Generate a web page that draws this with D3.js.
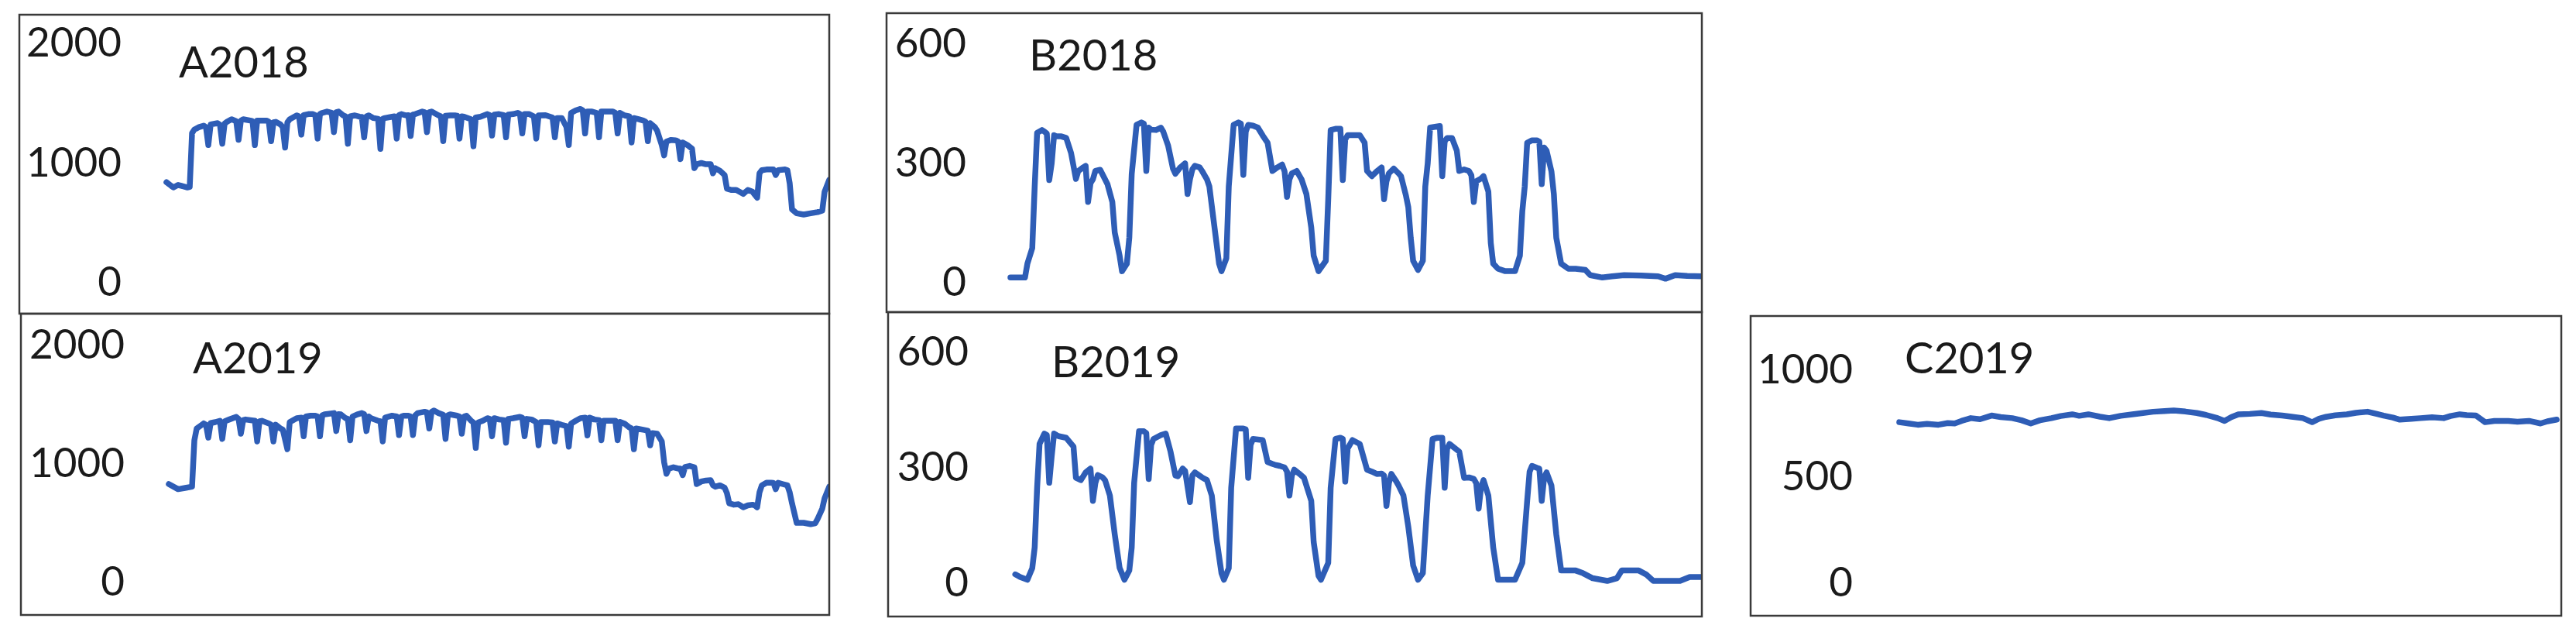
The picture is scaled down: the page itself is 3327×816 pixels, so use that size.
<!DOCTYPE html>
<html><head><meta charset="utf-8">
<script src="https://cdn.jsdelivr.net/npm/d3@7"></script>
<style>html,body{margin:0;padding:0;background:#fff;} svg{display:block;}</style>
</head><body><svg id="c" width="3327" height="816"></svg>
<script>
// ---- data ----
const titles = ["A2018", "A2019", "B2018", "B2019", "C2019"];
const ticksA = [0, 1000, 2000];
const ticksB = [0, 300, 600];
const ticksC = [0, 500, 1000];
// [day, value]
const a2018 = [[0,840],[2,810],[3,796],[5,817],[7,806],[9,796],[10,800],[11,1250],[12,1280],[14,1300],[16,1312],[17,1300],[18,1150],[19,1323],[22,1333],[23,1320],[24,1161],[25,1330],[26,1344],[28,1366],[30,1350],[31,1194],[32,1355],[33,1366],[36,1355],[37,1350],[38,1150],[39,1355],[43,1355],[44,1345],[45,1183],[46,1340],[47,1344],[49,1323],[50,1300],[51,1129],[52,1340],[53,1366],[56,1398],[57,1390],[58,1237],[59,1400],[61,1409],[63,1409],[64,1400],[65,1204],[66,1410],[67,1419],[69,1430],[71,1420],[72,1258],[73,1425],[74,1430],[76,1398],[77,1390],[78,1161],[79,1390],[81,1398],[83,1387],[84,1385],[85,1215],[86,1390],[87,1398],[89,1376],[91,1370],[92,1118],[93,1370],[94,1376],[97,1387],[98,1390],[99,1204],[100,1400],[101,1409],[103,1398],[104,1400],[105,1226],[106,1405],[107,1409],[110,1430],[111,1425],[112,1258],[113,1425],[114,1430],[117,1398],[118,1390],[119,1183],[120,1395],[122,1398],[124,1398],[125,1395],[126,1204],[127,1390],[128,1387],[131,1366],[132,1140],[133,1380],[135,1387],[138,1409],[139,1400],[140,1230],[141,1405],[143,1409],[145,1400],[146,1215],[147,1405],[149,1409],[151,1419],[152,1410],[153,1247],[154,1410],[156,1409],[158,1390],[159,1204],[160,1398],[163,1400],[165,1387],[166,1380],[167,1215],[168,1376],[170,1376],[172,1300],[173,1150],[174,1419],[176,1440],[178,1452],[179,1440],[180,1247],[181,1430],[183,1430],[185,1419],[186,1215],[187,1430],[189,1430],[192,1430],[193,1420],[194,1247],[195,1419],[197,1398],[199,1390],[200,1172],[201,1376],[203,1366],[205,1355],[206,1345],[207,1183],[208,1333],[210,1300],[211,1270],[213,1150],[214,1064],[215,1180],[217,1193],[219,1190],[220,1180],[221,1032],[222,1172],[224,1150],[226,1120],[227,957],[228,990],[230,1000],[232,990],[234,990],[235,914],[236,957],[238,935],[240,900],[241,785],[243,775],[245,775],[248,742],[250,775],[252,760],[254,710],[255,914],[256,940],[258,946],[261,946],[262,900],[263,940],[266,946],[267,940],[268,830],[269,613],[271,580],[274,570],[277,580],[280,590],[282,602],[283,760],[285,860]];
const a2019 = [[1,830],[5,787],[8,797],[11,808],[12,1200],[13,1299],[16,1342],[17,1330],[18,1222],[19,1345],[21,1353],[23,1364],[24,1211],[25,1360],[27,1375],[30,1397],[31,1380],[32,1255],[33,1370],[34,1375],[38,1364],[39,1190],[40,1360],[41,1364],[44,1342],[45,1330],[46,1190],[47,1331],[49,1299],[50,1290],[52,1124],[53,1353],[56,1386],[58,1390],[59,1233],[60,1400],[62,1407],[64,1407],[65,1400],[66,1233],[67,1410],[68,1418],[72,1429],[73,1277],[74,1420],[75,1418],[77,1386],[78,1380],[79,1200],[80,1400],[82,1418],[84,1429],[85,1420],[86,1277],[87,1400],[88,1386],[91,1364],[92,1360],[93,1190],[94,1390],[95,1397],[97,1407],[99,1400],[100,1244],[101,1400],[102,1407],[104,1407],[105,1400],[106,1244],[107,1410],[108,1429],[111,1440],[112,1435],[113,1299],[114,1440],[115,1451],[117,1429],[119,1415],[120,1211],[121,1410],[122,1418],[125,1407],[126,1400],[127,1255],[128,1400],[129,1407],[131,1364],[132,1350],[133,1135],[134,1350],[136,1364],[138,1386],[139,1380],[140,1233],[141,1386],[143,1375],[145,1370],[146,1179],[147,1380],[149,1386],[152,1397],[153,1390],[154,1233],[155,1380],[157,1375],[159,1353],[160,1157],[161,1353],[164,1353],[166,1350],[167,1190],[168,1342],[170,1330],[172,1320],[173,1146],[174,1340],[176,1364],[178,1386],[180,1390],[181,1240],[182,1390],[184,1375],[186,1370],[187,1200],[188,1364],[191,1364],[193,1364],[194,1200],[195,1355],[197,1340],[199,1309],[200,1300],[201,1124],[202,1299],[205,1288],[207,1280],[208,1157],[209,1260],[211,1255],[213,1190],[214,1015],[215,917],[216,960],[218,972],[220,961],[221,960],[222,906],[223,975],[225,983],[227,972],[228,830],[230,852],[232,860],[234,863],[235,820],[236,808],[238,819],[240,800],[241,754],[242,667],[244,656],[246,660],[248,634],[250,650],[252,656],[253,650],[254,634],[255,760],[256,819],[258,841],[260,841],[261,840],[262,787],[263,841],[265,830],[267,819],[268,760],[269,667],[271,503],[274,503],[277,492],[279,500],[280,536],[282,623],[283,710],[285,808]];
const b2018 = [[0,13],[3,13],[6,13],[7,48],[9,87],[10,242],[11,377],[13,384],[14,380],[15,375],[16,258],[17,300],[18,371],[19,368],[21,368],[23,364],[25,326],[27,261],[28,281],[30,290],[31,294],[32,203],[33,250],[34,260],[35,281],[37,284],[39,260],[40,248],[42,203],[43,126],[45,68],[46,29],[48,48],[49,113],[50,274],[52,397],[54,403],[55,400],[56,281],[57,390],[58,385],[60,384],[62,390],[63,380],[65,345],[67,287],[68,274],[70,290],[72,300],[73,223],[74,260],[75,285],[76,294],[78,290],[79,281],[81,260],[82,242],[84,145],[86,48],[87,29],[89,61],[90,242],[92,397],[94,403],[95,400],[96,271],[97,380],[98,397],[100,395],[102,390],[104,370],[106,352],[108,281],[110,290],[112,297],[113,280],[114,216],[115,260],[116,275],[118,281],[120,260],[122,223],[124,139],[125,68],[127,29],[130,55],[131,210],[132,384],[134,387],[136,387],[137,258],[138,360],[139,371],[141,371],[144,371],[146,352],[147,281],[149,268],[151,280],[153,290],[154,210],[155,255],[156,275],[158,287],[160,275],[161,268],[163,220],[164,190],[165,113],[166,55],[168,32],[170,55],[171,242],[172,300],[173,390],[175,392],[177,394],[178,268],[179,355],[180,364],[182,364],[184,332],[185,281],[187,285],[189,281],[190,270],[191,203],[192,255],[194,262],[195,268],[197,229],[198,100],[199,48],[201,35],[204,29],[208,29],[210,68],[211,180],[212,242],[213,352],[215,358],[217,358],[218,355],[219,248],[220,340],[221,332],[223,280],[224,223],[225,113],[227,48],[230,35],[233,35],[237,32],[239,19],[244,13],[248,16],[253,19],[260,18],[267,16],[270,10],[274,19],[279,17],[285,16]];
const b2019 = [[2,23],[4,16],[7,9],[9,39],[10,93],[11,248],[12,362],[14,389],[15,385],[16,261],[17,330],[18,389],[19,385],[20,382],[23,378],[26,355],[27,274],[29,268],[31,288],[33,298],[34,214],[35,260],[36,281],[38,275],[39,268],[41,228],[43,127],[45,40],[47,9],[49,33],[50,93],[51,261],[53,395],[55,395],[56,390],[57,271],[58,360],[59,375],[62,385],[64,389],[66,342],[68,280],[69,278],[71,298],[72,292],[74,211],[75,280],[76,288],[79,275],[81,268],[83,228],[85,113],[87,26],[88,9],[90,39],[91,248],[93,402],[96,402],[97,400],[98,274],[99,360],[100,375],[104,372],[106,315],[108,310],[109,308],[111,305],[113,301],[114,290],[115,228],[116,280],[117,295],[119,285],[121,274],[124,214],[125,107],[127,19],[128,9],[131,53],[132,248],[134,375],[136,378],[137,375],[138,264],[139,350],[141,372],[144,362],[147,295],[149,290],[151,284],[153,285],[154,280],[155,201],[156,260],[157,284],[159,265],[160,254],[162,228],[164,147],[166,46],[168,9],[170,26],[172,228],[174,375],[176,378],[178,378],[179,248],[180,350],[181,362],[185,342],[187,274],[189,275],[191,271],[192,260],[193,194],[194,250],[195,268],[197,228],[199,93],[201,9],[204,9],[208,9],[211,53],[213,214],[214,290],[215,305],[217,300],[218,298],[219,214],[220,275],[221,288],[223,254],[225,127],[227,33],[230,33],[233,33],[236,26],[240,13],[246,6],[250,13],[252,33],[256,33],[259,33],[262,23],[265,6],[270,6],[276,6],[280,16],[285,16]];
const c2019 = [[0,756],[4,750],[8,744],[12,748],[17,744],[21,752],[24,750],[27,762],[31,775],[35,770],[40,787],[44,780],[49,775],[53,765],[57,750],[61,765],[66,775],[70,785],[75,793],[78,786],[82,793],[87,782],[91,775],[96,786],[101,793],[105,798],[110,805],[115,808],[119,811],[124,806],[129,799],[133,790],[138,775],[141,762],[144,780],[147,793],[152,795],[157,799],[161,792],[166,787],[170,782],[175,775],[179,756],[182,772],[185,781],[189,788],[194,793],[198,800],[203,805],[207,795],[210,787],[214,778],[217,768],[222,772],[226,775],[231,779],[236,775],[239,785],[243,793],[246,789],[250,787],[254,756],[258,762],[264,762],[268,758],[273,762],[278,750],[281,760],[285,768]];

// ---- layout ----
const panels = [
  {title: titles[0], data: a2018, ticks: ticksA, ymax: 2000, box: [25, 19, 1071, 405], yr: [365, 56], xr: [215, 1071], lx: 157, tx: 231, ty: 100},
  {title: titles[1], data: a2019, ticks: ticksA, ymax: 2000, box: [27, 405, 1071, 794], yr: [752, 446], xr: [215, 1071], lx: 161, tx: 249, ty: 482},
  {title: titles[2], data: b2018, ticks: ticksB, ymax: 600, box: [1145, 17, 2198, 403], yr: [365, 57], xr: [1305, 2198], lx: 1248, tx: 1329, ty: 91},
  {title: titles[3], data: b2019, ticks: ticksB, ymax: 600, box: [1147, 403, 2198, 796], yr: [753, 455], xr: [1305, 2198], lx: 1251, tx: 1358, ty: 487},
  {title: titles[4], data: c2019, ticks: ticksC, ymax: 1000, box: [2261, 408, 3308, 795], yr: [753, 478], xr: [2453, 3302], lx: 2393, tx: 2460, ty: 482}
];
const FONT = "Lato, 'Open Sans', sans-serif";
const LINE = "#2e5db6";
const svg = d3.select("#c");
svg.append("rect").attr("width", 3327).attr("height", 816).attr("fill", "#fff");

panels.forEach((p, i) => {
  const [x0, y0, x1, y1] = p.box;
  const g = svg.append("g");
  const x = d3.scaleLinear().domain([0, 285]).range(p.xr);
  const y = d3.scaleLinear().domain([0, p.ymax]).range(p.yr);
  g.append("clipPath").attr("id", "clip" + i)
    .append("rect").attr("x", x0).attr("y", y0).attr("width", x1 - x0).attr("height", y1 - y0);
  g.append("path").datum(p.data)
    .attr("clip-path", "url(#clip" + i + ")")
    .attr("fill", "none").attr("stroke", LINE).attr("stroke-width", 7.5)
    .attr("stroke-linejoin", "round").attr("stroke-linecap", "round")
    .attr("d", d3.line().x(d => x(d[0])).y(d => y(d[1])));
  const ax = g.append("g").attr("transform", `translate(${p.lx},0)`)
    .call(d3.axisLeft(y).tickValues(p.ticks).tickSize(0).tickPadding(0).tickFormat(d3.format("d")));
  ax.select(".domain").remove();
  ax.selectAll("text").attr("font-family", FONT).attr("font-size", 53).attr("fill", "#1a1a1a");
  g.append("text").attr("x", p.tx).attr("y", p.ty).text(p.title)
    .attr("font-family", FONT).attr("font-size", 56).attr("fill", "#1a1a1a");
  g.append("rect").attr("x", x0).attr("y", y0).attr("width", x1 - x0).attr("height", y1 - y0)
    .attr("fill", "none").attr("stroke", "#3a3a3a").attr("stroke-width", 2.5);
});
</script></body></html>
